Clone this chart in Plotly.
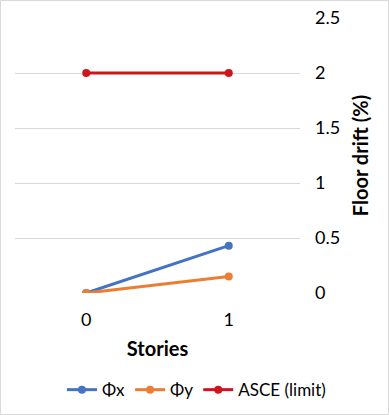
import plotly.graph_objects as go

# --- data ---
stories = [0, 1]
phi_x = [0, 0.43]
phi_y = [0, 0.15]
asce_limit = [2, 2]

series = [
    ("Φx", phi_x, "#4472C4"),
    ("Φy", phi_y, "#ED7D31"),
    ("ASCE (limit)", asce_limit, "#D0141C"),
]

FONT = "Lato, 'Open Sans', sans-serif"

fig = go.Figure()
for name, vals, color in series:
    fig.add_trace(go.Scatter(
        x=stories, y=vals, name=name, mode="lines+markers",
        line=dict(color=color, width=3),
        marker=dict(color=color, size=8),
    ))

# light gray frame round the whole chart
fig.add_shape(type="rect", xref="paper", yref="paper",
              x0=-0.0509, x1=1.3105, y0=-0.4418, y1=1.0636,
              line=dict(color="#D9D9D9", width=1))

fig.update_layout(
    width=389, height=415,
    paper_bgcolor="white", plot_bgcolor="white",
    margin=dict(l=15, r=89, t=18, b=122, autoexpand=False),
    font=dict(family=FONT, size=18, color="#000000"),
    showlegend=True,
    legend=dict(orientation="h", xref="container", x=0.505, xanchor="center",
                yref="container", y=0.06, yanchor="middle",
                font=dict(size=17), itemwidth=30, tracegroupgap=0),
    xaxis=dict(
        type="category", range=[-0.5, 1.5], automargin=False,
        showgrid=False, showline=False, zeroline=False,
        ticks="", tickfont=dict(size=18), ticklabelstandoff=14,
        title=dict(text="<b>Stories</b>", font=dict(size=20), standoff=12),
    ),
    yaxis=dict(
        side="right", range=[0, 2.5], dtick=0.5, automargin=False,
        showgrid=True, gridcolor="#D9D9D9", gridwidth=1,
        zeroline=False, showline=False, ticks="",
        ticklabelstandoff=14,
        tickfont=dict(size=18),
        title=dict(text="<b>Floor drift (%)</b>", font=dict(size=20), standoff=14),
    ),
)

# page body has a default 8px margin; drop it so the chart sits at 0,0
fig.write_html("out.html", config={"displayModeBar": False},
               post_script="document.body.style.margin='0px';")
